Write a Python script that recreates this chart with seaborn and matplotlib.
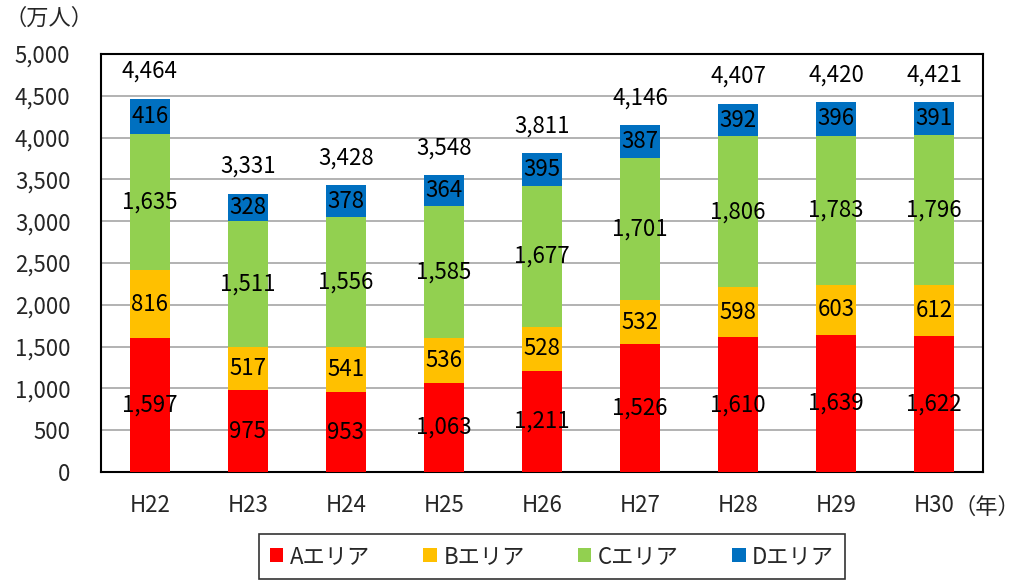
import matplotlib
matplotlib.use("Agg")
import matplotlib.pyplot as plt
from matplotlib.patches import Patch
import seaborn as sns
import pandas as pd
import numpy as np

years = ["H22", "H23", "H24", "H25", "H26", "H27", "H28", "H29", "H30"]
area_a = [1597, 975, 953, 1063, 1211, 1526, 1610, 1639, 1622]
area_b = [816, 517, 541, 536, 528, 532, 598, 603, 612]
area_c = [1635, 1511, 1556, 1585, 1677, 1701, 1806, 1783, 1796]
area_d = [416, 328, 378, 364, 395, 387, 392, 396, 391]
# totals as printed in the source (rounded separately)
total_labels = [4464, 3331, 3428, 3548, 3811, 4146, 4407, 4420, 4421]
series_names = ["Aエリア", "Bエリア", "Cエリア", "Dエリア"]
colors = ["#FF0000", "#FFC000", "#92D050", "#0070C0"]

sns.set_theme(style="white")
plt.rcParams["font.family"] = ["Noto Sans CJK JP", "DejaVu Sans"]
FS = 16

layers = np.array([area_a, area_b, area_c, area_d], dtype=float)
cum = np.cumsum(layers, axis=0)

fig, ax = plt.subplots(figsize=(10.23, 5.8), dpi=100)
fig.subplots_adjust(left=101 / 1023, right=983 / 1023, top=1 - 54 / 580, bottom=1 - 472 / 580)

# stacked bars: draw cumulative heights from the top down
for i in range(3, -1, -1):
    df = pd.DataFrame({"year": years, "value": cum[i]})
    sns.barplot(data=df, x="year", y="value", color=colors[i], saturation=1,
                width=0.4, ax=ax, linewidth=0, zorder=3)

for j in range(len(years)):
    for i in range(4):
        base = cum[i][j] - layers[i][j]
        ax.text(j, base + layers[i][j] / 2, f"{int(layers[i][j]):,}", ha="center", va="center",
                fontsize=FS, color="black", zorder=5)
    ax.text(j, cum[-1][j] + 330, f"{total_labels[j]:,}", ha="center", va="center",
            fontsize=FS, color="black", zorder=5)

ax.set_ylim(0, 5000)
ax.set_xlim(-0.5, len(years) - 0.5)
ax.set_yticks(np.arange(0, 5001, 500))
ax.set_yticklabels([f"{v:,}" for v in range(0, 5001, 500)])
ax.yaxis.grid(True, color="#A6A6A6", linewidth=1.2, zorder=0)
ax.set_axisbelow(True)
ax.set_xlabel("")
ax.set_ylabel("")
ax.tick_params(axis="y", length=0, pad=22, labelsize=FS)
ax.tick_params(axis="x", length=0, pad=16, labelsize=FS)
for s in ax.spines.values():
    s.set_visible(True)
    s.set_color("black")
    s.set_linewidth(1.5)

fig.text(4 / 1023, 1 - 18 / 580, "（万人）", fontsize=FS, ha="left", va="center")
fig.text(1020 / 1023, 1 - 507 / 580, "（年）", fontsize=FS, ha="right", va="center")

handles = [Patch(facecolor=c, edgecolor="none", label=n) for c, n in zip(colors, series_names)]
leg = fig.legend(handles=handles, loc="upper center", bbox_to_anchor=(552 / 1023, 1 - 534 / 580),
                 ncol=4, fontsize=FS, frameon=True, fancybox=False, handlelength=0.6,
                 handleheight=0.6, handletextpad=0.3, columnspacing=2.4,
                 borderpad=0.5, borderaxespad=0)
leg.get_frame().set_edgecolor("black")
leg.get_frame().set_linewidth(1.2)

fig.savefig("out.png", dpi=100)
